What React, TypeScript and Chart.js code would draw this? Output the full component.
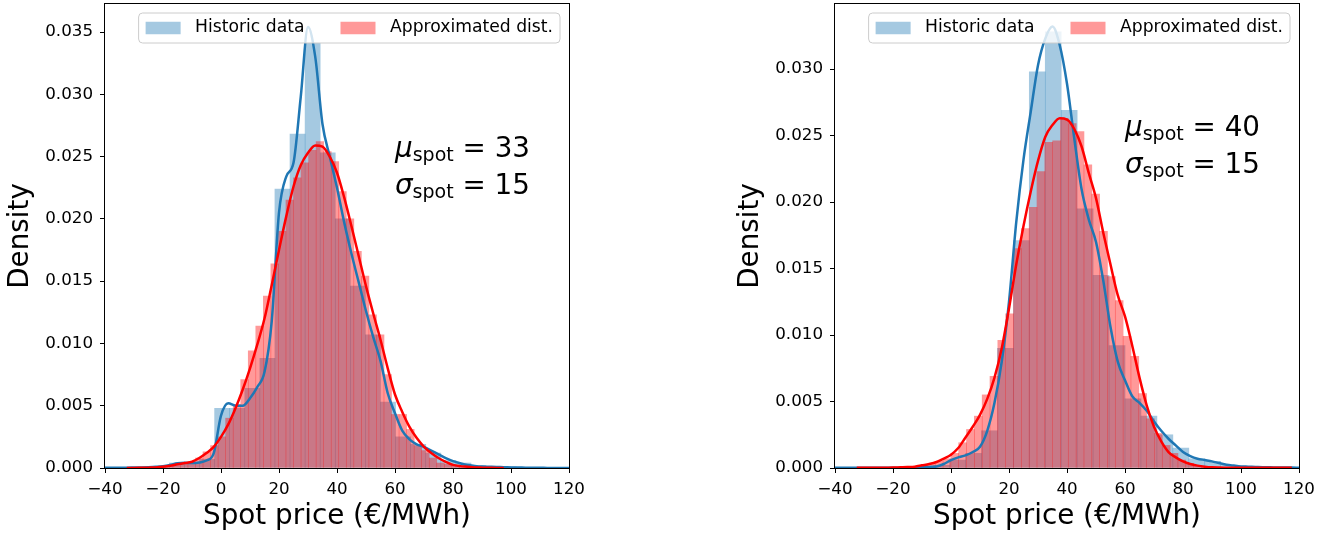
import React, { useEffect, useRef } from 'react';
import { Chart, registerables } from 'chart.js';

Chart.register(...registerables);

// ---------- shared KDE grid (Spot price, €/MWh) ----------
const KDE_X = [
  -40, -37.5, -35, -32.5, -30, -27.5, -25, -22.5,
  -20, -17.5, -15, -12.5, -10, -7.5, -5, -2.5,
  0, 2.5, 5, 7.5, 10, 12.5, 15, 17.5,
  20, 22.5, 25, 27.5, 30, 32.5, 35, 37.5,
  40, 42.5, 45, 47.5, 50, 52.5, 55, 57.5,
  60, 62.5, 65, 67.5, 70, 72.5, 75, 77.5,
  80, 82.5, 85, 87.5, 90, 92.5, 95, 97.5,
  100, 102.5, 105, 107.5, 110, 112.5, 115, 117.5,
  120,
];

// ---------- left panel ----------
const LEFT_HIST_BINS = [-36, -30.8, -25.6, -20.4, -15.2, -10, -4.8, 0.4, 5.6, 10.8, 16, 21.2, 26.4, 31.6, 36.8, 42, 47.2, 52.4, 57.6, 62.8, 68, 73.2, 78.4, 83.6, 88.8, 94, 99.2, 104.4, 109.6, 114.8];
const LEFT_HIST_DENSITY = [0.00003, 0.00003, 0.00005, 0.0001, 0.0004, 0.0004, 0.0007, 0.0048, 0.0048, 0.0064, 0.0088, 0.0224, 0.0268, 0.0341, 0.0253, 0.0200, 0.0146, 0.0107, 0.0053, 0.0025, 0.0019, 0.0012, 0.0006, 0.0004, 0.0002, 0.0001, 0.0001, 0.00005, 0.00003, 0.00002];

const LEFT_APPROX_BINS = [-20.5, -17.9, -15.3, -12.7, -10.1, -7.5, -4.9, -2.3, 0.3, 2.9, 5.5, 8.1, 10.7, 13.3, 15.9, 18.5, 21.1, 23.7, 26.3, 28.9, 31.5, 34.1, 36.7, 39.3, 41.9, 44.5, 47.1, 49.7, 52.3, 54.9, 57.5, 60.1, 62.7, 65.3, 67.9, 70.5, 73.1, 75.7, 78.3, 80.9, 83.5];
const LEFT_APPROX_DENSITY = [0.0001, 0.0001, 0.0002, 0.0003, 0.0005, 0.0008, 0.0013, 0.0018, 0.0025, 0.0040, 0.0051, 0.0071, 0.0094, 0.0114, 0.0138, 0.0164, 0.0190, 0.0215, 0.0233, 0.0245, 0.0255, 0.0262, 0.0254, 0.0246, 0.0222, 0.0200, 0.0174, 0.0154, 0.0123, 0.0107, 0.0075, 0.0043, 0.0043, 0.0031, 0.0018, 0.0014, 0.0008, 0.0004, 0.0003, 0.0002, 0.0001];

const LEFT_KDE_HIST = [
  0.00002, 0.00002, 0.00003, 0.00003, 0.00004, 0.00005, 0.00007, 0.0001,
  0.00015, 0.00025, 0.00038, 0.00042, 0.0004, 0.00045, 0.0006, 0.0012,
  0.0042, 0.0052, 0.0050, 0.0050, 0.0056, 0.0065, 0.0077, 0.0118,
  0.0205, 0.0234, 0.0245, 0.0298, 0.0354, 0.0330, 0.0276, 0.0250,
  0.0225, 0.0197, 0.0172, 0.0149, 0.0126, 0.0105, 0.0086, 0.0060,
  0.0044, 0.0030, 0.0023, 0.0019, 0.0017, 0.0014, 0.0011, 0.0008,
  0.00055, 0.00038, 0.00024, 0.00017, 0.00012, 0.0001, 0.00008, 0.00007,
  0.00005, 0.00004, 0.00003, 0.00002, 0.00002, 0.00001, 0.00001, 0.00001,
  0.00001,
];
const LEFT_KDE_APPROX = [
  null, null, null, 0.00001, 0.00001, 0.00002, 0.00003, 0.00005,
  0.0001, 0.00018, 0.0003, 0.0004, 0.0005, 0.0008, 0.0012, 0.0017,
  0.0025, 0.0035, 0.0048, 0.0063, 0.0080, 0.0099, 0.0120, 0.0147,
  0.0175, 0.0202, 0.0226, 0.0243, 0.0253, 0.0259, 0.0258, 0.0250,
  0.0237, 0.0217, 0.0194, 0.0170, 0.0146, 0.0124, 0.0103, 0.0080,
  0.0059, 0.0045, 0.0033, 0.0024, 0.0017, 0.0012, 0.0008, 0.0005,
  0.00025, 0.00015, 0.0001, 0.00005, 0.00003, 0.00002, 0.00001, 0.00001,
  null, null, null, null, null, null, null, null,
  null,
];

// ---------- right panel ----------
const RIGHT_HIST_BINS = [-8.75, -3.25, 2.25, 7.75, 13.25, 18.75, 24.25, 29.75, 35.25, 40.75, 46.25, 51.75, 57.25, 62.75, 68.25, 73.75, 79.25, 84.75, 90.25, 95.75, 101.25, 106.75, 112.25, 117.75];
const RIGHT_HIST_DENSITY = [0.00005, 0.0002, 0.0006, 0.0011, 0.0028, 0.0090, 0.0171, 0.0298, 0.0328, 0.0269, 0.0195, 0.0145, 0.0092, 0.0052, 0.0039, 0.0025, 0.0015, 0.0007, 0.0005, 0.0002, 0.0001, 0.00005, 0.00005, 0.00003];

const RIGHT_APPROX_BINS = [-14.9, -12.2, -9.5, -6.8, -4.1, -1.4, 1.3, 4.0, 6.7, 9.4, 12.1, 14.8, 17.5, 20.2, 22.9, 25.6, 28.3, 31.0, 33.7, 36.4, 39.1, 41.8, 44.5, 47.2, 49.9, 52.6, 55.3, 58.0, 60.7, 63.4, 66.1, 68.8, 71.5, 74.2, 76.9, 79.6, 82.3, 85.0, 87.7];
const RIGHT_APPROX_DENSITY = [0.0001, 0.0001, 0.0002, 0.0003, 0.0005, 0.0007, 0.0011, 0.0019, 0.0029, 0.0039, 0.0055, 0.0069, 0.0096, 0.0116, 0.0165, 0.0180, 0.0196, 0.0223, 0.0245, 0.0246, 0.0263, 0.0259, 0.0253, 0.0228, 0.0206, 0.0178, 0.0144, 0.0126, 0.0099, 0.0084, 0.0056, 0.0037, 0.0026, 0.0017, 0.0011, 0.0006, 0.00035, 0.0002, 0.0001];

const RIGHT_KDE_HIST = [
  0.00001, 0.00001, 0.00001, 0.00001, 0.00001, 0.00001, 0.00001, 0.00001,
  0.00002, 0.00002, 0.00003, 0.00003, 0.00005, 0.00008, 0.00012, 0.0003,
  0.0006, 0.0008, 0.00095, 0.0012, 0.0016, 0.0028, 0.0049, 0.0080,
  0.0125, 0.0185, 0.0232, 0.0268, 0.0303, 0.0323, 0.0332, 0.0318,
  0.0289, 0.0248, 0.0210, 0.0187, 0.0170, 0.0141, 0.0106, 0.0080,
  0.0066, 0.0054, 0.0049, 0.0043, 0.0035, 0.0028, 0.0022, 0.0017,
  0.0012, 0.0009, 0.0007, 0.0006, 0.0005, 0.00037, 0.00025, 0.00018,
  0.00012, 0.0001, 0.00008, 0.00006, 0.00005, 0.00004, 0.00003, 0.00003,
  0.00002,
];
const RIGHT_KDE_APPROX = [
  null, null, null, 0.00001, 0.00001, 0.00001, 0.00001, 0.00002,
  0.00003, 0.00005, 0.00007, 0.0001, 0.0002, 0.0003, 0.00045, 0.0007,
  0.0010, 0.0015, 0.0023, 0.0031, 0.0040, 0.0052, 0.0068, 0.0090,
  0.0120, 0.0153, 0.0182, 0.0208, 0.0231, 0.0249, 0.0258, 0.0263,
  0.0262, 0.0255, 0.0242, 0.0222, 0.0203, 0.0177, 0.0153, 0.0130,
  0.0114, 0.0092, 0.0068, 0.0047, 0.0031, 0.0020, 0.0012, 0.0008,
  0.0005, 0.0003, 0.00018, 0.0001, 0.00005, 0.00003, 0.00002, 0.00001,
  0.00001, 0.00001, 0.00001, 0.00001, 0.00001, 0.00001, 0.00001, 0.00001,
  null,
];

// ---------- labels / text ----------
const X_TICKS_MIN = -40;
const X_TICKS_MAX = 120;
const X_TICK_STEP = 20;
const Y_TICK_STEP = 0.005;
const LEGEND_LABELS = ['Historic data', 'Approximated dist.'];
const X_TITLE = 'Spot price (€/MWh)';
const Y_TITLE = 'Density';
const LEFT_STATS = { mu: '33', sigma: '15' };
const RIGHT_STATS = { mu: '40', sigma: '15' };
const STATS_ANCHOR = { x: 60, y: 0.025 };

const FONT = "'DejaVu Sans', sans-serif";
const BLUE = '#1f77b4';
const BLUE_FILL = 'rgba(31,119,180,0.4)';
const RED = '#ff0000';
const RED_FILL = 'rgba(255,0,0,0.4)';

Chart.defaults.font.family = FONT;

const decorPlugin = {
  id: 'decor',
  afterDatasetsDraw(chart: any, _args: any, opts: any) {
    const { ctx, chartArea: ca } = chart;
    ctx.save();
    // frame (spines)
    ctx.strokeStyle = '#000';
    ctx.lineWidth = 1;
    const l = Math.round(ca.left) - 0.5;
    const t = Math.round(ca.top) - 0.5;
    const r = Math.round(ca.right) + 0.5;
    const b = Math.round(ca.bottom) + 0.5;
    ctx.strokeRect(l, t, r - l, b - t);

    // stats annotation (mathtext-like)
    const xs = chart.scales.x.getPixelForValue(STATS_ANCHOR.x);
    const ys = chart.scales.y.getPixelForValue(STATS_ANCHOR.y);
    const drawLine = (sym: string, val: string, y: number) => {
      let x = xs;
      ctx.fillStyle = '#000';
      ctx.textBaseline = 'alphabetic';
      ctx.textAlign = 'left';
      ctx.font = `italic 27.8px ${FONT}`;
      ctx.fillText(sym, x, y);
      x += ctx.measureText(sym).width;
      ctx.font = `19px ${FONT}`;
      ctx.fillText('spot', x, y + 4);
      x += ctx.measureText('spot').width;
      ctx.font = `27.8px ${FONT}`;
      ctx.fillText(' = ' + val, x, y);
    };
    drawLine('μ', opts.mu, ys);
    drawLine('σ', opts.sigma, ys + 37.5);

    // legend
    ctx.font = `17.2px ${FONT}`;
    const w1 = ctx.measureText(LEGEND_LABELS[0]).width;
    const w2 = ctx.measureText(LEGEND_LABELS[1]).width;
    const pad = 7, patchW = 35, patchH = 12.5, gap = 14.5, colGap = 36;
    const boxW = pad + patchW + gap + w1 + colGap + patchW + gap + w2 + pad;
    const boxH = 30;
    const bx = ca.right - 9 - boxW;
    const by = ca.top + 9;
    const rad = 4;
    ctx.beginPath();
    ctx.moveTo(bx + rad, by);
    ctx.lineTo(bx + boxW - rad, by);
    ctx.arcTo(bx + boxW, by, bx + boxW, by + rad, rad);
    ctx.lineTo(bx + boxW, by + boxH - rad);
    ctx.arcTo(bx + boxW, by + boxH, bx + boxW - rad, by + boxH, rad);
    ctx.lineTo(bx + rad, by + boxH);
    ctx.arcTo(bx, by + boxH, bx, by + boxH - rad, rad);
    ctx.lineTo(bx, by + rad);
    ctx.arcTo(bx, by, bx + rad, by, rad);
    ctx.closePath();
    ctx.fillStyle = 'rgba(255,255,255,0.8)';
    ctx.fill();
    ctx.strokeStyle = '#cccccc';
    ctx.lineWidth = 1;
    ctx.stroke();

    const cy = by + boxH / 2;
    let x = bx + pad;
    ctx.fillStyle = BLUE_FILL;
    ctx.fillRect(x, cy - patchH / 2, patchW, patchH);
    x += patchW + gap;
    ctx.fillStyle = '#000';
    ctx.textBaseline = 'middle';
    ctx.fillText(LEGEND_LABELS[0], x, cy);
    x += w1 + colGap;
    ctx.fillStyle = RED_FILL;
    ctx.fillRect(x, cy - patchH / 2, patchW, patchH);
    x += patchW + gap;
    ctx.fillStyle = '#000';
    ctx.fillText(LEGEND_LABELS[1], x, cy);
    ctx.restore();
  },
};

function pts(xs: number[], ys: (number | null)[]) {
  return xs.map((x, i) => ({ x, y: ys[i] }));
}

function buildConfig(p: any): any {
  const tickGrid = {
    display: true,
    drawOnChartArea: false,
    drawTicks: true,
    tickLength: 5,
    color: '#000',
    lineWidth: 1,
    offset: false,
  };
  return {
    type: 'bar',
    data: {
      datasets: [
        {
          type: 'line', label: 'kde approx', data: pts(KDE_X, p.kdeApprox),
          borderColor: RED, borderWidth: 2.5, pointRadius: 0, fill: false,
          cubicInterpolationMode: 'monotone', xAxisID: 'x', order: 0,
        },
        {
          type: 'line', label: 'kde historic', data: pts(KDE_X, p.kdeHist),
          borderColor: BLUE, borderWidth: 2.5, pointRadius: 0, fill: false,
          cubicInterpolationMode: 'monotone', xAxisID: 'x', order: 1,
        },
        {
          type: 'bar', label: LEGEND_LABELS[1], data: pts(p.approxBins, p.approxDensity),
          backgroundColor: RED_FILL, borderWidth: 0, barPercentage: 1, categoryPercentage: 1,
          grouped: false, xAxisID: 'x2', order: 2,
        },
        {
          type: 'bar', label: LEGEND_LABELS[0], data: pts(p.histBins, p.histDensity),
          backgroundColor: BLUE_FILL, borderWidth: 0, barPercentage: 1, categoryPercentage: 1,
          grouped: false, xAxisID: 'x', order: 3,
        },
      ],
    },
    options: {
      animation: false,
      responsive: false,
      events: [],
      layout: { padding: { left: 0, right: 31, top: 4, bottom: 0 } },
      plugins: {
        legend: { display: false },
        tooltip: { enabled: false },
        decor: { mu: p.stats.mu, sigma: p.stats.sigma },
      },
      scales: {
        x: {
          type: 'linear', position: 'bottom', min: X_TICKS_MIN, max: X_TICKS_MAX, offset: false,
          grid: tickGrid,
          border: { display: false },
          ticks: {
            stepSize: X_TICK_STEP, color: '#000', font: { family: FONT, size: 16.7 },
            padding: 7, maxRotation: 0, autoSkip: false,
            callback: (v: any) => (v < 0 ? '\u2212' + Math.abs(v) : String(v)),
          },
          title: {
            display: true, text: X_TITLE, color: '#000',
            font: { family: FONT, size: 27.8 }, padding: { top: 0, bottom: 4 },
          },
          afterFit: (s: any) => {
            s.height = 69;
            s.paddingLeft = 0;
            s.paddingRight = 0;
          },
        },
        x2: {
          type: 'linear', position: 'bottom', min: X_TICKS_MIN, max: X_TICKS_MAX,
          offset: false, display: false, grid: { offset: false },
          ticks: { stepSize: X_TICK_STEP },
        },
        y: {
          type: 'linear', min: 0, max: p.yMax,
          grid: tickGrid,
          border: { display: false },
          ticks: {
            stepSize: Y_TICK_STEP, includeBounds: false, color: '#000',
            font: { family: FONT, size: 16.7 }, padding: 7,
            callback: (v: any) => Number(v).toFixed(3),
          },
          title: {
            display: true, text: Y_TITLE, color: '#000',
            font: { family: FONT, size: 27.8 }, padding: { top: 4, bottom: 0 },
          },
          afterFit: (s: any) => {
            s.width = 105;
            s.paddingTop = 0;
            s.paddingBottom = 0;
          },
        },
      },
    },
    plugins: [decorPlugin],
  };
}

const PANELS = [
  {
    left: 0,
    yMax: 0.03725,
    histBins: LEFT_HIST_BINS, histDensity: LEFT_HIST_DENSITY,
    approxBins: LEFT_APPROX_BINS, approxDensity: LEFT_APPROX_DENSITY,
    kdeHist: LEFT_KDE_HIST, kdeApprox: LEFT_KDE_APPROX,
    stats: LEFT_STATS,
  },
  {
    left: 730,
    yMax: 0.0349,
    histBins: RIGHT_HIST_BINS, histDensity: RIGHT_HIST_DENSITY,
    approxBins: RIGHT_APPROX_BINS, approxDensity: RIGHT_APPROX_DENSITY,
    kdeHist: RIGHT_KDE_HIST, kdeApprox: RIGHT_KDE_APPROX,
    stats: RIGHT_STATS,
  },
];

function Panel({ p }: { p: any }) {
  const ref = useRef<HTMLCanvasElement>(null);
  useEffect(() => {
    if (!ref.current) return;
    const chart = new Chart(ref.current, buildConfig(p));
    return () => chart.destroy();
  }, []);
  return (
    <canvas
      ref={ref}
      width={600}
      height={537}
      style={{ position: 'absolute', left: p.left, top: 0, width: 600, height: 537 }}
    />
  );
}

export default function App() {
  return (
    <div style={{ position: 'fixed', left: 0, top: 0, width: 1338, height: 537, background: '#fff', overflow: 'hidden' }}>
      {PANELS.map((p, i) => (
        <Panel key={i} p={p} />
      ))}
    </div>
  );
}
